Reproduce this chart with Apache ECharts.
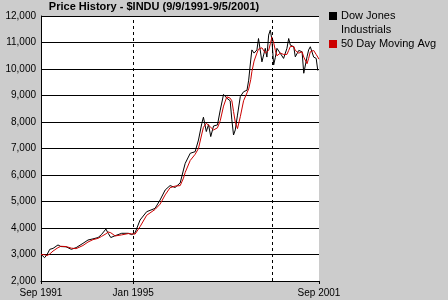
<!DOCTYPE html>
<html><head><meta charset="utf-8">
<script src="https://cdn.jsdelivr.net/npm/echarts@6/dist/echarts.min.js"></script>
<style>html,body{margin:0;padding:0;background:#cccccc;}#c{width:448px;height:300px;}</style>
</head><body><div id="c"></div>
<script>
const titleText = 'Price History - $INDU (9/9/1991-9/5/2001)';
const seriesNames = ['Dow Jones Industrials', '50 Day Moving Avg'];
const dates = ['1991-09-09','1991-10-26','1991-11-28','1992-01-02','1992-02-14','1992-04-19','1992-05-28','1992-08-03','1992-10-11','1992-12-13',
'1993-03-13','1993-05-18','1993-07-22','1993-09-27','1993-11-10','1994-01-08','1994-02-07','1994-03-13','1994-05-10','1994-08-03',
'1994-10-29','1994-12-13','1995-01-26','1995-04-01','1995-06-27','1995-10-15','1995-12-20','1996-02-25','1996-04-29','1996-07-04',
'1996-09-09','1996-10-22','1996-11-14','1997-01-19','1997-03-24','1997-05-07','1997-06-20','1997-07-11','1997-08-18','1997-09-16',
'1997-10-15','1997-11-21','1998-01-11','1998-02-17','1998-04-01','1998-05-14','1998-06-27','1998-07-19','1998-08-10','1998-09-02',
'1998-10-01','1998-11-07','1998-12-20','1999-02-03','1999-02-25','1999-03-24','1999-04-08','1999-05-07','1999-06-13','1999-07-04',
'1999-08-18','1999-10-01','1999-10-22','1999-11-14','1999-12-06','1999-12-27','2000-01-19','2000-02-10','2000-03-02','2000-04-15',
'2000-05-28','2000-07-11','2000-08-03','2000-08-25','2000-10-08','2000-10-29','2000-12-13','2001-01-26','2001-02-17','2001-04-01',
'2001-04-22','2001-05-14','2001-06-27','2001-07-30','2001-08-20','2001-09-05'];
const djia = [3010,2880,3000,3195,3230,3360,3300,3290,3195,3260,
3420,3547,3590,3640,3750,3960,3800,3640,3710,3800,
3800,3750,3820,4300,4615,4740,5057,5434,5600,5530,
5700,6190,6440,6820,6880,7320,7950,8180,7640,7900,
7450,7850,7890,8450,9040,8900,8800,8080,7510,7700,
8260,8960,9140,9200,9580,10340,10720,10600,10720,11150,
10270,10780,10450,11280,11470,11100,10150,10440,10780,10590,
10400,10780,11150,10900,10840,10460,10700,10650,9840,10460,
10720,10840,10450,10400,9950,10000];
const ma50 = [3000,2990,2960,3020,3130,3260,3310,3300,3240,3220,
3340,3470,3560,3610,3680,3780,3850,3820,3700,3740,
3790,3780,3770,4050,4480,4700,4900,5250,5520,5580,
5600,5880,6100,6550,6780,7000,7550,7800,7950,7880,
7800,7700,7780,8050,8600,8950,8900,8800,8400,8000,
7750,8200,8800,9100,9250,9600,9900,10300,10600,10750,
10800,10600,10550,10700,10950,11200,11000,10700,10500,10600,
10550,10550,10700,10850,10850,10700,10600,10650,10450,10200,
10400,10650,10700,10550,10450,10370];
const xLabelDates = ['1991-09-09','1995-01-01','2001-09-05'];
const xLabelTexts = ['Sep 1991','Jan 1995','Sep 2001'];
const dashedDates = ['1995-01-01','2000-01-01'];
const yMin = 2000, yMax = 12000, yStep = 1000;

const ts = d => new Date(d + 'T00:00:00Z').getTime();
const labelTs = xLabelDates.map(ts);
const FONT = 'Liberation Sans, Arial, sans-serif';
const chart = echarts.init(document.getElementById('c'), null, {renderer:'canvas'});
chart.setOption({
  animation: false,
  backgroundColor: '#cccccc',
  textStyle: {fontFamily: FONT},
  title: {text: titleText, left: 154, top: 1, textAlign: 'center', padding: 0,
    textStyle: {fontFamily: FONT, fontSize: 11, fontWeight: 'bold', color: '#000'}},
  grid: {left: 41, right: 129, top: 16, bottom: 19, show: true, backgroundColor: '#ffffff', borderWidth: 0},
  xAxis: {type: 'value', min: labelTs[0], max: labelTs[2],
    axisLine: {show: true, lineStyle: {color: '#000', width: 1}},
    axisTick: {show: true, customValues: labelTs, length: 3, lineStyle: {color: '#000'}},
    axisLabel: {customValues: labelTs, color: '#000', fontSize: 10, margin: 7,
      formatter: v => { const i = labelTs.indexOf(v); return i >= 0 ? xLabelTexts[i] : ''; }},
    splitLine: {show: false}},
  yAxis: {type: 'value', min: yMin, max: yMax, interval: yStep,
    axisLine: {show: true, lineStyle: {color: '#000', width: 1}},
    axisTick: {show: false},
    axisLabel: {color: '#000', fontSize: 10, margin: 5, padding: [2,0,0,0], formatter: v => v.toLocaleString('en-US')},
    splitLine: {show: true, lineStyle: {color: '#000', width: 1}}},
  series: [
    {name: seriesNames[0], type: 'line', data: dates.map((d,i)=>[ts(d), djia[i]]), showSymbol: false,
      lineStyle: {color: '#000', width: 1}, itemStyle: {color: '#000'},
      markLine: {silent: true, symbol: ['none','none'], label: {show: false},
        lineStyle: {color: '#000', type: [3,3], width: 1},
        data: dashedDates.map(d => ({xAxis: ts(d)}))}},
    {name: seriesNames[1], type: 'line', data: dates.map((d,i)=>[ts(d), ma50[i]]), showSymbol: false,
      lineStyle: {color: '#cc0000', width: 1}, itemStyle: {color: '#cc0000'}}
  ],
  graphic: [
    {type: 'rect', shape: {x: 329, y: 12, width: 8, height: 8}, style: {fill: '#000'}},
    {type: 'text', x: 341, y: 16, style: {text: 'Dow Jones', fill: '#000', fontSize: 11, fontFamily: FONT, verticalAlign: 'middle'}},
    {type: 'text', x: 341, y: 30, style: {text: 'Industrials', fill: '#000', fontSize: 11, fontFamily: FONT, verticalAlign: 'middle'}},
    {type: 'rect', shape: {x: 329, y: 40, width: 8, height: 8}, style: {fill: '#cc0000'}},
    {type: 'text', x: 341, y: 44, style: {text: seriesNames[1], fill: '#000', fontSize: 11, fontFamily: FONT, verticalAlign: 'middle'}}
  ]
});
</script></body></html>
